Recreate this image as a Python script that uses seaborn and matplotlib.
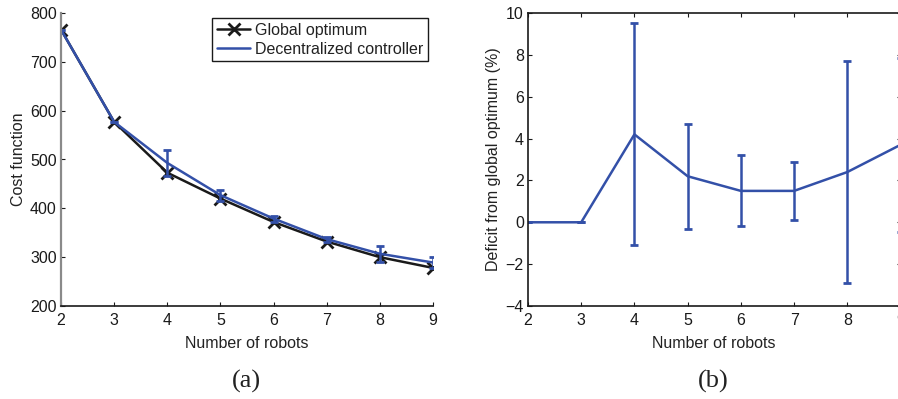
import numpy as np
import pandas as pd
import matplotlib
matplotlib.use("Agg")
import matplotlib.pyplot as plt
import seaborn as sns

# ---- data ----
robots = [2, 3, 4, 5, 6, 7, 8, 9]
global_opt = [766, 577, 473, 420, 372, 332, 300, 278]
decentral = [766, 577, 493, 427, 379, 337, 307, 289]
decentral_err = [0, 0, 26, 11, 6, 5, 16, 11]
deficit = [0.0, 0.0, 4.2, 2.2, 1.5, 1.5, 2.4, 3.7]
deficit_err = [0.0, 0.0, 5.3, 2.5, 1.7, 1.4, 5.3, 4.15]

BLUE = "#3350a8"
BLACK = "#1a1a1a"
FS = 11.5

sns.set_style("ticks")
plt.rcParams['font.family'] = ['Liberation Sans', 'DejaVu Sans']
plt.rcParams.update({
    "xtick.direction": "in",
    "ytick.direction": "in",
    "xtick.major.size": 3,
    "ytick.major.size": 3,
    "xtick.major.width": 0.8,
    "ytick.major.width": 0.8,
    "axes.linewidth": 1.2,
    "axes.edgecolor": BLACK,
    "xtick.color": BLACK,
    "ytick.color": BLACK,
    "text.color": "#222222",
    "axes.labelcolor": "#222222",
    "font.size": FS,
})

df_a = pd.DataFrame({"robots": robots, "global": global_opt,
                     "dec": decentral, "dec_err": decentral_err})
df_b = pd.DataFrame({"robots": robots, "deficit": deficit, "err": deficit_err})

fig = plt.figure(figsize=(8.98, 3.99), dpi=100)
W, H = 898, 399
def pos(x0, x1, y0, y1):
    return [x0 / W, 1 - y1 / H, (x1 - x0) / W, (y1 - y0) / H]

ax1 = fig.add_axes(pos(61, 433, 13, 306))
ax2 = fig.add_axes(pos(528, 900.5, 13, 306))

# ---- panel (a) ----
sns.lineplot(data=df_a, x="robots", y="global", ax=ax1, color=BLACK,
             marker="x", markersize=8, markeredgewidth=2,
             markeredgecolor=BLACK, markerfacecolor=BLACK, linewidth=1.8,
             label="Global optimum")
sns.lineplot(data=df_a, x="robots", y="dec", ax=ax1, color=BLUE,
             linewidth=1.8, label="Decentralized controller")
ax1.errorbar(df_a["robots"], df_a["dec"], yerr=df_a["dec_err"], fmt="none",
             ecolor=BLUE, elinewidth=1.8, capsize=3.2, capthick=2)
ax1.set_xlim(2, 9)
ax1.set_ylim(200, 800)
ax1.set_xticks(robots)
ax1.set_yticks([200, 300, 400, 500, 600, 700, 800])
ax1.set_xlabel("Number of robots", fontsize=FS, labelpad=6)
ax1.set_ylabel("Cost function", fontsize=FS, labelpad=3)
ax1.spines["right"].set_visible(False)
ax1.spines["top"].set_visible(False)
ax1.spines["left"].set_color("#8a8a8a")
ax1.spines["left"].set_linewidth(1.6)
ax1.tick_params(axis="both", labelsize=FS, pad=3)
ax1.tick_params(axis="x", pad=5)
leg = ax1.legend(loc="upper right", fontsize=FS, frameon=True, fancybox=False,
                 edgecolor=BLACK, framealpha=1, borderpad=0.3, labelspacing=0.25,
                 handlelength=2.1, handletextpad=0.3, borderaxespad=0.3)
leg.get_frame().set_linewidth(1.0)

# ---- panel (b) ----
sns.lineplot(data=df_b, x="robots", y="deficit", ax=ax2, color=BLUE,
             linewidth=1.8)
ax2.errorbar(df_b["robots"], df_b["deficit"], yerr=df_b["err"], fmt="none",
             ecolor=BLUE, elinewidth=1.8, capsize=3.2, capthick=2)
ax2.set_xlim(2, 9)
ax2.set_ylim(-4, 10)
ax2.set_xticks(robots)
ax2.set_yticks(np.arange(-4, 11, 2))
ax2.set_xlabel("Number of robots", fontsize=FS, labelpad=6)
ax2.set_ylabel("Deficit from global optimum (%)", fontsize=FS, labelpad=3)
ax2.tick_params(axis="both", labelsize=FS, pad=3, top=True, right=True)
ax2.tick_params(axis="x", pad=5)
for s in ax2.spines.values():
    s.set_visible(True)
    s.set_color(BLACK)

# ---- sub-captions ----
fig.text(246 / W, 1 - 381 / H, "(a)", ha="center", va="center",
         fontsize=19, family="Liberation Serif", color="#222222")
fig.text(713 / W, 1 - 381 / H, "(b)", ha="center", va="center",
         fontsize=19, family="Liberation Serif", color="#222222")

fig.savefig("out.png", dpi=100)
